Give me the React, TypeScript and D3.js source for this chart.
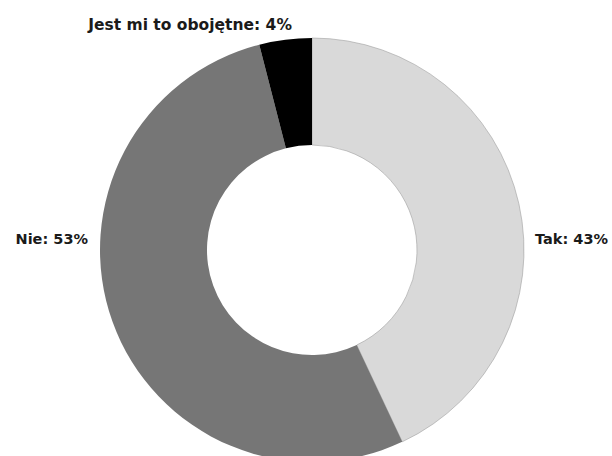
import React from "react";
import * as d3 from "d3";

const categories = ["Tak", "Nie", "Jest mi to obojętne"];
const values = [43, 53, 4];
const colors = ["#d9d9d9", "#767676", "#000000"];

const W = 612;
const H = 456;
const cx = 312;
const cy = 250;
const outerR = 212;
const innerR = 105;

export default function App() {
  const pie = d3.pie<number>().sort(null).value((d) => d)(values);
  const arc = d3.arc<d3.PieArcDatum<number>>().innerRadius(innerR).outerRadius(outerR);

  const labels = pie.map((p, i) => {
    const mid = (p.startAngle + p.endAngle) / 2;
    const s = Math.sin(mid);
    const c = Math.cos(mid);
    let x: number, y: number, anchor: string, size: number;
    if (Math.abs(c) > 0.9) {
      x = cx + (outerR + 12) * s + 8;
      y = cy - (outerR + 10) * c;
      anchor = "end";
      size = 15.5;
    } else if (s > 0) {
      x = cx + outerR + 11;
      y = cy - 6;
      anchor = "start";
      size = 14.5;
    } else {
      x = cx - outerR - 12;
      y = cy - 6;
      anchor = "end";
      size = 14.5;
    }
    return { x, y, anchor, size, text: `${categories[i]}: ${values[i]}%` };
  });

  return (
    <svg
      width={W}
      height={H}
      style={{ position: "absolute", left: 0, top: 0, background: "#fff" }}
    >
      <g transform={`translate(${cx},${cy})`}>
        {pie.map((p, i) => (
          <path
            key={i}
            d={arc(p) || ""}
            fill={colors[i]}
            stroke={i === 0 ? "#a0a0a0" : "none"}
            strokeWidth={i === 0 ? 0.6 : 0}
          />
        ))}
      </g>
      {labels.map((l, i) => (
        <text
          key={i}
          x={l.x}
          y={l.y}
          textAnchor={l.anchor as any}
          fontFamily="DejaVu Sans"
          fontWeight="bold"
          fontSize={l.size}
          fill="#1a1a1a"
        >
          {l.text}
        </text>
      ))}
    </svg>
  );
}
